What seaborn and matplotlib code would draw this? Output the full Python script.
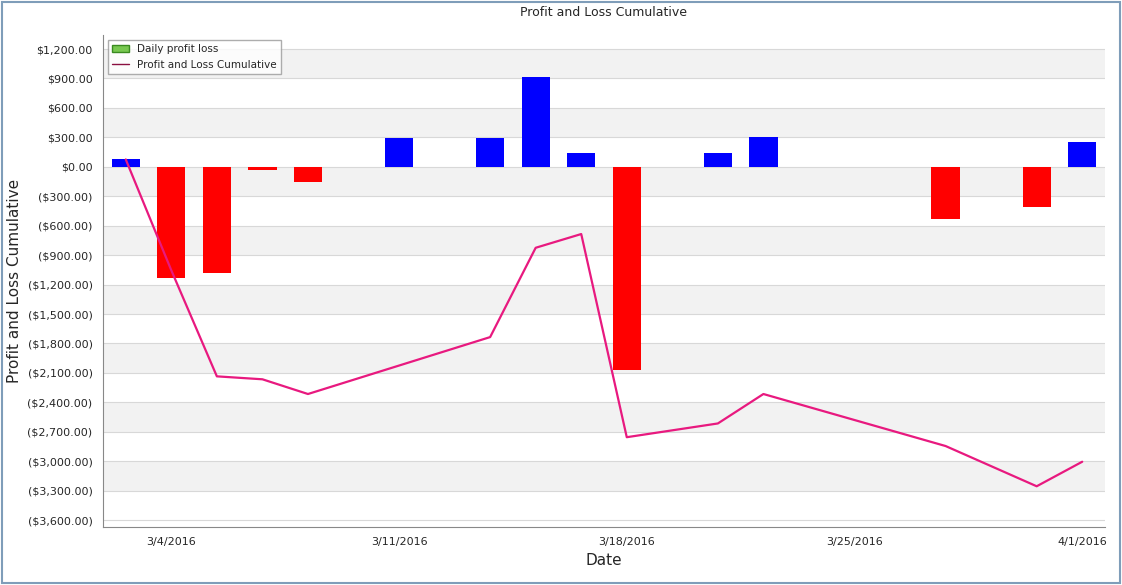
import matplotlib
matplotlib.use("Agg")
import matplotlib.pyplot as plt
import seaborn as sns
import pandas as pd
from matplotlib.patches import Patch, Rectangle
from matplotlib.lines import Line2D
from matplotlib.ticker import FuncFormatter, MultipleLocator

# weekdays on the axis (weekends skipped)
workdays = ['3/3', '3/4', '3/7', '3/8', '3/9', '3/10', '3/11', '3/14', '3/15', '3/16', '3/17',
            '3/18', '3/21', '3/22', '3/23', '3/24', '3/25', '3/28', '3/29', '3/30', '3/31', '4/1']
tradeDays = ['3/3', '3/4', '3/7', '3/8', '3/9', '3/11', '3/15', '3/16', '3/17', '3/18',
             '3/22', '3/23', '3/29', '3/31', '4/1']
dailyPL = [75, -1130, -1080, -30, -150, 290, 290, 910, 140, -2070, 140, 300, -530, -410, 250]
cumulativePL = [75, -1055, -2135, -2165, -2315, -2025, -1735, -825, -685, -2755,
                -2615, -2315, -2845, -3255, -3005]
tickDays = ['3/4', '3/11', '3/18', '3/25', '4/1']
tickLabels = ['3/4/2016', '3/11/2016', '3/18/2016', '3/25/2016', '4/1/2016']

df = pd.DataFrame({'pos': [workdays.index(d) for d in tradeDays], 'daily': dailyPL, 'cum': cumulativePL})
df['sign'] = ['pos' if v >= 0 else 'neg' for v in df['daily']]

sns.set_style('white')
plt.rcParams['font.family'] = ['DejaVu Sans']
fig = plt.figure(figsize=(11.22, 5.85), dpi=100)
ax = fig.add_axes([103/1122, 58/585, 1002/1122, 492/585])

# alternating bands
for i, lo in enumerate(range(-3600, 1200, 300)):
    if i % 2 == 1:
        ax.axhspan(lo, lo + 300, color='#f2f2f2', zorder=0, lw=0)
for lo in range(-3600, 1500, 300):
    ax.axhline(lo, color='#d8d8d8', lw=0.8, zorder=0.5)

sns.barplot(data=df, x='pos', y='daily', hue='sign', palette={'pos': '#0000ff', 'neg': '#ff0000'},
            native_scale=True, width=0.62, legend=False, ax=ax, saturation=1, zorder=2, linewidth=0)
sns.lineplot(data=df, x='pos', y='cum', color='#e8197f', lw=1.6, ax=ax, zorder=3)

ax.set_xlim(-0.5, 21.5)
ax.set_ylim(-3670, 1343)
ax.yaxis.set_major_locator(MultipleLocator(300))
ax.yaxis.set_minor_locator(MultipleLocator(100))
ax.yaxis.set_major_formatter(FuncFormatter(lambda v, p: f'${v:,.2f}' if v >= 0 else f'(${-v:,.2f})'))
ax.set_xticks([workdays.index(d) for d in tickDays])
ax.set_xticklabels(tickLabels)
ax.set_xticks(range(len(workdays)), minor=True)
ax.tick_params(axis='both', which='both', direction='out', labelsize=8, color='#888888')
ax.tick_params(which='major', length=4)
ax.tick_params(which='minor', length=2)
for s in ['left', 'bottom']:
    ax.spines[s].set_color('#888888')
for s in ['top', 'right']:
    ax.spines[s].set_visible(False)
ax.set_xlabel('Date', fontsize=11)
ax.set_ylabel('Profit and Loss Cumulative', fontsize=11)
ax.set_title('Profit and Loss Cumulative', fontsize=9, pad=14)

handles = [Patch(facecolor='#78c850', edgecolor='#3a8a20', label='Daily profit loss'),
           Line2D([0], [0], color='#8a1040', lw=1, label='Profit and Loss Cumulative')]
ax.legend(handles=handles, loc='upper left', fontsize=7.5, frameon=True, fancybox=False,
          edgecolor='#999999', borderaxespad=0.5, handlelength=1.6)

fig.patches.append(Rectangle((0.002, 0.003), 0.996, 0.994, transform=fig.transFigure,
                             fill=False, edgecolor='#7f9db9', lw=1.5))
fig.savefig('out.png', dpi=100)
